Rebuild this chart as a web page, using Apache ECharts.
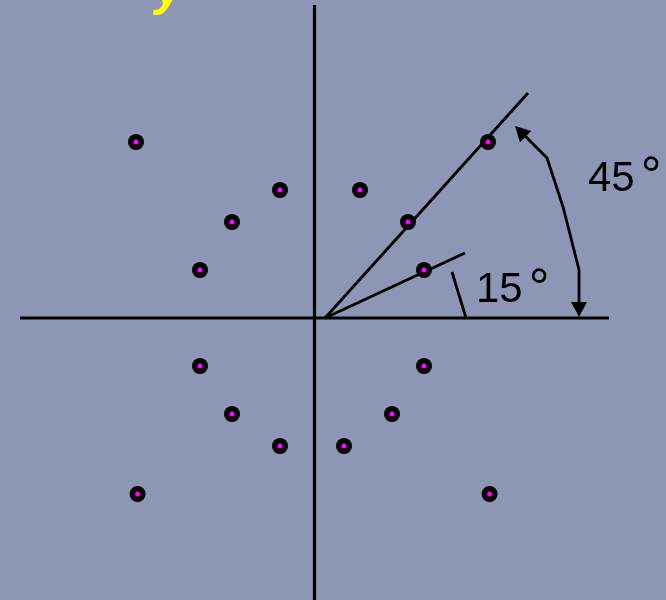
<!DOCTYPE html>
<html>
<head>
<meta charset="utf-8">
<script src="https://cdn.jsdelivr.net/npm/echarts@6/dist/echarts.min.js"></script>
<style>
html,body{margin:0;padding:0;background:#8C97B5;}
#chart{width:666px;height:600px;}
</style>
</head>
<body>
<div id="chart"></div>
<script>
// Constellation points (in grid units)
const pointsUpper = [[-11,11],[11,11],[-2,8],[3,8],[-5,6],[6,6],[-7,3],[7,3]];
const pointsLower = [[-7,-3],[7,-3],[-5,-6],[5,-6],[-2,-8],[2,-8],[-10.9,-11],[11.1,-11]];

// Reference lines
const verticalAxisLine = [[0.156,19.56],[0.156,-17.7]];
const horizontalAxisLine = [[-18.25,0],[18.56,0]];
const ray45 = [[0.8125,0],[13.5,14.06]];
const ray15 = [[0.8125,0],[9.56,4.06]];
const tick15 = [[8.75,2.875],[9.625,0]];
const arc45 = [[13.1,11.6],[14.69,10],[15.69,6.94],[16.69,3],[16.69,0.6]];
// Arrow heads: [x, y, rotation]
const arrowHeads = [[13.02,11.67,45],[16.69,0.53,180]];

// Angle labels
const angleLabels = [
  {name:'45', value:[17.25,8.68]},
  {name:'15', value:[10.25,1.7]}
];
const titleText = 'y';

const chart = echarts.init(document.getElementById('chart'));

function seg(name, data, width){
  return {
    name: name, type:'line', data:data, symbol:'none', showSymbol:false,
    silent:true, animation:false,
    lineStyle:{color:'#000', width:width},
    z:2
  };
}

const option = {
  backgroundColor:'#8C97B5',
  animation:false,
  title:{
    text:titleText, left:150, top:-39,
    textStyle:{color:'#FFFF00', fontSize:50, fontWeight:'bold', fontStyle:'italic', fontFamily:'Liberation Sans'}
  },
  grid:{left:0, right:0, top:0, bottom:0},
  xAxis:{type:'value', min:-19.5, max:22.125, show:false},
  yAxis:{type:'value', min:-17.625, max:19.875, show:false},
  series:[
    seg('vaxis', verticalAxisLine, 3.2),
    seg('haxis', horizontalAxisLine, 3.2),
    seg('ray45', ray45, 2.8),
    seg('ray15', ray15, 2.8),
    seg('tick15', tick15, 2.8),
    seg('arc45', arc45, 2.8),
    {
      type:'scatter', silent:true, animation:false,
      data: arrowHeads.map(a => ({value:[a[0],a[1]], symbolRotate:a[2]})),
      symbol:'triangle', symbolSize:[16,15],
      itemStyle:{color:'#000', opacity:1},
      z:3
    },
    {
      type:'scatter', data:angleLabels, symbolSize:0, silent:true, animation:false,
      itemStyle:{opacity:1},
      label:{
        show:true, position:[0,0], align:'left', verticalAlign:'middle', color:'#000', opacity:1,
        formatter: p => '{d|' + p.name + '}{s|°}',
        rich:{
          d:{fontSize:42, color:'#000', fontFamily:'Liberation Sans'},
          s:{fontSize:52, color:'#000', fontFamily:'Liberation Sans', padding:[0,0,0,6]}
        }
      }
    },
    {
      type:'scatter', data:pointsUpper.concat(pointsLower),
      symbol:'circle', symbolSize:10.5, silent:true, animation:false,
      itemStyle:{color:'#FF00FF', borderColor:'#000', borderWidth:5.5, opacity:1},
      z:5
    }
  ]
};
chart.setOption(option);
</script>
</body>
</html>
